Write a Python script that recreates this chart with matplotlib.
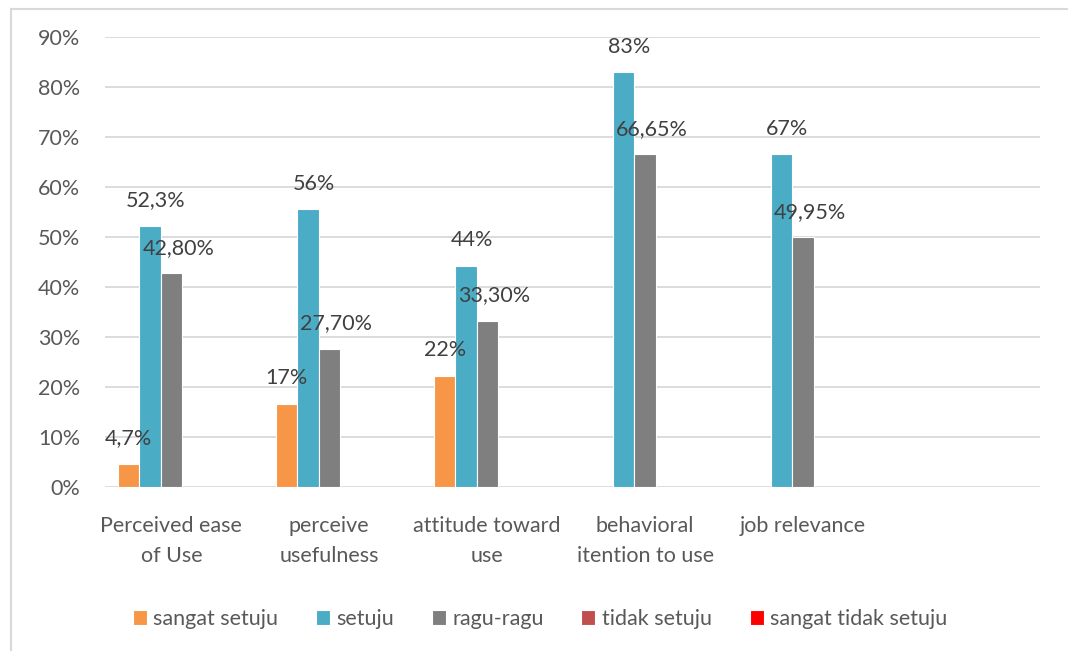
import numpy as np
import matplotlib.pyplot as plt
from matplotlib.lines import Line2D

plt.rcParams['font.family'] = ['Lato', 'DejaVu Sans']

# data
categories = ['Perceived ease\nof Use', 'perceive\nusefulness', 'attitude toward\nuse',
              'behavioral\nitention to use', 'job relevance', '']
series = ['sangat setuju', 'setuju', 'ragu-ragu', 'tidak setuju', 'sangat tidak setuju']
colors = ['#F79646', '#4BACC6', '#7F7F7F', '#C0504D', '#FF0000']

sangat_setuju = [4.7, 16.7, 22.3, 0, 0, 0]
setuju = [52.3, 55.6, 44.3, 83.0, 66.6, 0]
ragu_ragu = [42.8, 27.7, 33.3, 66.65, 49.95, 0]
tidak_setuju = [0, 0, 0, 0, 0, 0]
sangat_tidak_setuju = [0, 0, 0, 0, 0, 0]

lbl_sangat_setuju = ['4,7%', '17%', '22%', '', '', '']
lbl_setuju = ['52,3%', '56%', '44%', '83%', '67%', '']
lbl_ragu_ragu = ['42,80%', '27,70%', '33,30%', '66,65%', '49,95%', '']
lbl_empty = [''] * 6

values = [sangat_setuju, setuju, ragu_ragu, tidak_setuju, sangat_tidak_setuju]
labels = [lbl_sangat_setuju, lbl_setuju, lbl_ragu_ragu, lbl_empty, lbl_empty]
label_dx = [0, 4, 5, 0, 0]  # labels sit a little right of their bars

fs = 15.5
fig = plt.figure(figsize=(10.68, 6.51), dpi=100)
ax = fig.add_axes([105 / 1068, 1 - 487 / 651, (1040 - 105) / 1068, 450 / 651])

# chart frame
fig.add_artist(Line2D([11 / 1068, 11 / 1068], [0, 1 - 9 / 651], color='#d9d9d9', lw=1.5))
fig.add_artist(Line2D([11 / 1068, 1], [1 - 9 / 651, 1 - 9 / 651], color='#d9d9d9', lw=1.5))

x = np.arange(len(categories))
w = 0.135
for i, (vals, lbls) in enumerate(zip(values, labels)):
    pos = x + (i - 2) * w
    ax.bar(pos, vals, w, color=colors[i], edgecolor='white', linewidth=0.8,
           label=series[i], zorder=3)
    for p, v, t in zip(pos, vals, lbls):
        if t:
            ax.annotate(t, (p, v), xytext=(label_dx[i], 18), textcoords='offset points',
                        ha='center', va='center', fontsize=fs, color='#404040', zorder=5)

ax.set_xlim(-0.42, 5.5)
ax.set_ylim(0, 90)
ax.set_yticks(np.arange(0, 91, 10))
ax.set_yticklabels([f'{t}%' for t in range(0, 91, 10)])
ax.set_xticks(x[:5])
ax.set_xticklabels(categories[:5], linespacing=1.6)
ax.tick_params(length=0, labelsize=fs, colors='#595959')
ax.tick_params(axis='y', pad=18)
ax.tick_params(axis='x', pad=21)
ax.grid(axis='y', color='#d9d9d9', linewidth=1.3, zorder=0)
for s in ax.spines.values():
    s.set_visible(False)

ax.legend(loc='center', bbox_to_anchor=(540 / 1068, 1 - 619 / 651),
          bbox_transform=fig.transFigure, ncol=5, frameon=False, fontsize=fs,
          labelcolor='#595959', handlelength=0.65, handleheight=0.65,
          columnspacing=1.75, handletextpad=0.3)

fig.savefig('out.png', dpi=100, facecolor='white')
